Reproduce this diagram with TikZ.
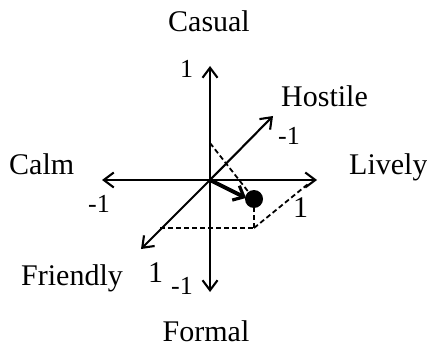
\documentclass[tikz,border=0pt]{standalone}
\usepackage{fontspec}
\setmainfont{Liberation Serif}
\usetikzlibrary{arrows.meta}
\tikzset{
  axis/.style={line width=2.1pt, -{Straight Barb[length=10pt,width=15pt,line width=2.1pt]}},
  dashline/.style={line width=1.8pt, dash pattern=on 5pt off 3pt},
  lab/.style={inner sep=0pt, font=\fontsize{30}{31}\selectfont},
  num/.style={inner sep=0pt, font=\fontsize{26}{27}\selectfont},
  bignum/.style={inner sep=0pt, font=\fontsize{30}{31}\selectfont},
}
\begin{document}
\begin{tikzpicture}[x=1pt,y=-1pt]
\useasboundingbox (0,0) rectangle (427,347);
\coordinate (O) at (210,180);
\coordinate (T) at (210,66);
\coordinate (B) at (210,292);
\coordinate (L) at (102,180);
\coordinate (R) at (317,180);
\coordinate (H) at (273,116);
\coordinate (F) at (141,249);
\coordinate (V) at (210,143);
\coordinate (P1) at (160,228);
\coordinate (P2) at (254,228);
\coordinate (P3) at (308,184);
\coordinate (D) at (254,199);
\coordinate (A) at (246,198);
% axes
\draw[axis] (O) -- (T);
\draw[axis] (O) -- (B);
\draw[axis] (O) -- (L);
\draw[axis] (O) -- (R);
\draw[axis] (O) -- (H);
\draw[axis] (O) -- (F);
% dashed construction
\draw[dashline] (V) -- (D);
\draw[dashline] (D) -- (P2);
\draw[dashline] (P1) -- (P2);
\draw[dashline] (P2) -- (P3);
% dot and vector
\node[circle, fill=black, inner sep=0pt, minimum size=18pt] (dot) at (D) {};
\draw[line width=4pt, -{Straight Barb[length=9pt,width=16pt,line width=3.2pt]}] (O) -- (A);
% labels
\node[lab, anchor=base] (casual) at (209,32) {Casual};
\node[lab, anchor=base] (formal) at (206,341) {Formal};
\node[lab, anchor=base west] (calm) at (9,175) {Calm};
\node[lab, anchor=base west] (lively) at (349,175) {Lively};
\node[lab, anchor=base west] (hostile) at (281,107) {Hostile};
\node[lab, anchor=base west] (friendly) at (21,285) {Friendly};
\node[num, anchor=base west] (n1) at (180,78) {1};
\node[num, anchor=base west] (n2) at (88,212) {-1};
\node[bignum, anchor=base west] (n3) at (293,217) {1};
\node[num, anchor=base west] (n4) at (278,145) {-1};
\node[bignum, anchor=base west] (n5) at (148,282) {1};
\node[num, anchor=base west] (n6) at (171,294) {-1};
\end{tikzpicture}
\end{document}
